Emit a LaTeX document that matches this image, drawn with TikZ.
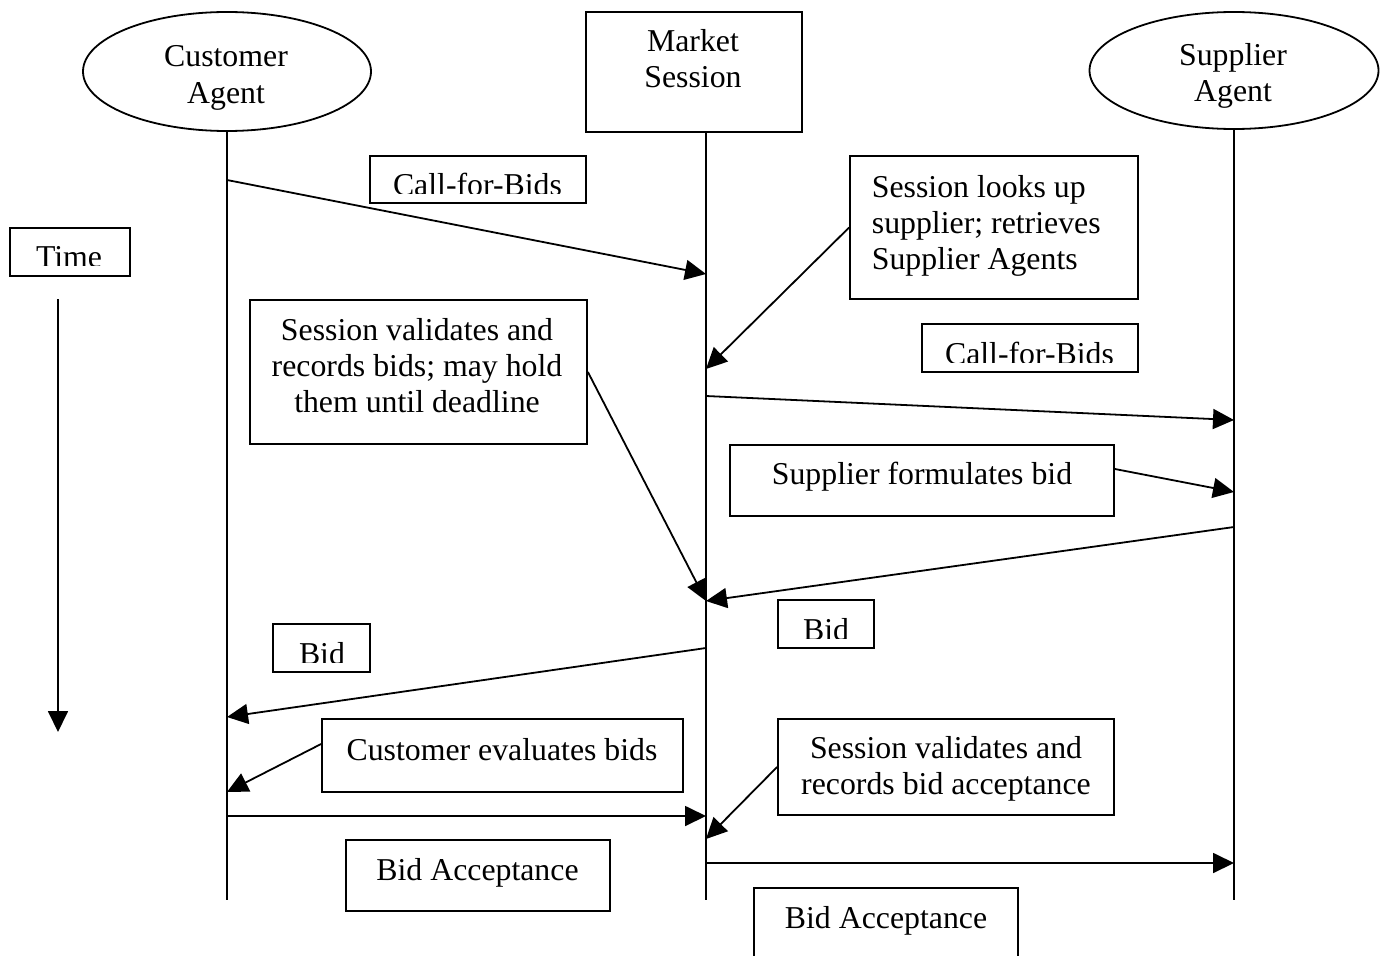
\documentclass[tikz,border=0pt]{standalone}
\usepackage{fontspec}
\setmainfont{Liberation Serif}
\usetikzlibrary{arrows.meta,shapes.geometric,calc}
% centred (or left-aligned) block of lines whose base is the first line's baseline
\newcommand\txtlines[2][c]{\begin{tabular}[t]{@{}#1@{}}#2\end{tabular}}
\begin{document}
\begin{tikzpicture}[x=1pt,y=-1pt,
  line width=1.8pt,
  font=\fontsize{31.8}{36}\selectfont,
  boxwh/.style 2 args={draw, rectangle, inner sep=0pt, minimum width=#1, minimum height=#2},
  oval/.style 2 args={draw, ellipse, inner sep=0pt, minimum width=#1, minimum height=#2},
  txt/.style={inner sep=0pt, anchor=base},
  msg/.style={-{Triangle[length=21pt,width=20pt]}}]
\useasboundingbox (0,0) rectangle (1380,955);

% ---- lifeline heads ----
\node[oval={288}{119}] (cust) at (227,71.5) {};
\node[txt] (custT) at (226,67) {\txtlines{Customer\\Agent}};
\node[boxwh={216}{120}] (mkt) at (694,72) {};
\node[txt] (mktT) at (693,52) {\txtlines{Market\\Session}};
\node[oval={289}{117}] (supp) at (1234,70.5) {};
\node[txt] (suppT) at (1233,66) {\txtlines{Supplier\\Agent}};

% ---- lifelines ----
\coordinate (custEnd) at (227,900);
\coordinate (mktEnd) at (706,900);
\coordinate (suppEnd) at (1234,900);
\draw (cust.south) -- (custEnd);
\draw (mkt.south -| mktEnd) -- (mktEnd);
\draw (supp.south) -- (suppEnd);

% ---- comment boxes ----
\node[boxwh={288}{143}] (slook) at (994,227.5) {};
\node[txt, anchor=base west] (slookT) at (871,197)
  {\txtlines[l]{Session looks up\\supplier; retrieves\\Supplier Agents}};
\node[boxwh={337}{144}] (sval) at (418.5,372) {};
\node[txt] (svalT) at (417,340)
  {\txtlines{Session validates and\\records bids; may hold\\them until deadline}};
\node[boxwh={384}{71}] (sform) at (922,480.5) {};
\node[txt] (sformT) at (922,484) {Supplier formulates bid};
\node[boxwh={361}{73}] (ceval) at (502.5,755.5) {};
\node[txt] (cevalT) at (502,760) {Customer evaluates bids};
\node[boxwh={336}{96}] (sval2) at (946,767) {};
\node[txt] (sval2T) at (946,758)
  {\txtlines{Session validates and\\records bid acceptance}};

% ---- message labels ----
\node[boxwh={120}{48}] (time) at (70,252) {};
\begin{scope}
  \clip (time.north west) rectangle (130,265);
  \node[txt] (timeT) at (69,267) {Time};
\end{scope}
\node[boxwh={216}{47}] (cfb1) at (478,179.5) {};
\begin{scope}
  \clip (cfb1.north west) rectangle (586,193);
  \node[txt] (cfb1T) at (477.5,195.5) {Call-for-Bids};
\end{scope}
\node[boxwh={216}{48}] (cfb2) at (1030,348) {};
\begin{scope}
  \clip (cfb2.north west) rectangle (1138,362);
  \node[txt] (cfb2T) at (1029.5,364.5) {Call-for-Bids};
\end{scope}
\node[boxwh={96}{48}] (bid2) at (826,624) {};
\begin{scope}
  \clip (bid2.north west) rectangle (874,638);
  \node[txt] (bid2T) at (826,640) {Bid};
\end{scope}
\node[boxwh={97}{48}] (bid1) at (321.5,648) {};
\begin{scope}
  \clip (bid1.north west) rectangle (370,662);
  \node[txt] (bid1T) at (322,664) {Bid};
\end{scope}
\node[boxwh={264}{71}] (bacc1) at (478,875.5) {};
\node[txt] (bacc1T) at (477.5,880) {Bid Acceptance};
\node[boxwh={264}{92}] (bacc2) at (886,934) {};
\node[txt] (bacc2T) at (886,928) {Bid Acceptance};

% ---- messages ----
\coordinate (c1) at (227,180);  \coordinate (m1) at (706,274);
\draw[msg] (c1) -- (m1);
\coordinate (m2) at (706,369);
\draw[msg] (slook.west) -- (m2);
\coordinate (m3) at (706,396);  \coordinate (s3) at (1234,420);
\draw[msg] (m3) -- (s3);
\coordinate (s4) at (1234,492);
\draw[msg] ([yshift=11.5pt]sform.east) -- (s4);
\coordinate (s5) at (1234,527); \coordinate (m5) at (706,601);
\draw[msg] (s5) -- (m5);
\draw[msg] (sval.east) -- (m5);
\coordinate (m6) at (706,648);  \coordinate (c6) at (227,717);
\draw[msg] (m6) -- (c6);
\coordinate (c7) at (227,792);
\draw[msg] ([yshift=11.5pt]ceval.west) -- (c7);
\coordinate (c8) at (227,816);  \coordinate (m8) at (706,816);
\draw[msg] (c8) -- (m8);
\coordinate (m9) at (706,839);
\draw[msg] (sval2.west) -- (m9);
\coordinate (m10) at (706,863); \coordinate (s10) at (1234,863);
\draw[msg] (m10) -- (s10);

% ---- time axis ----
\coordinate (t1) at (58,299); \coordinate (t2) at (58,732);
\draw[msg] (t1) -- (t2);
\end{tikzpicture}
\end{document}
